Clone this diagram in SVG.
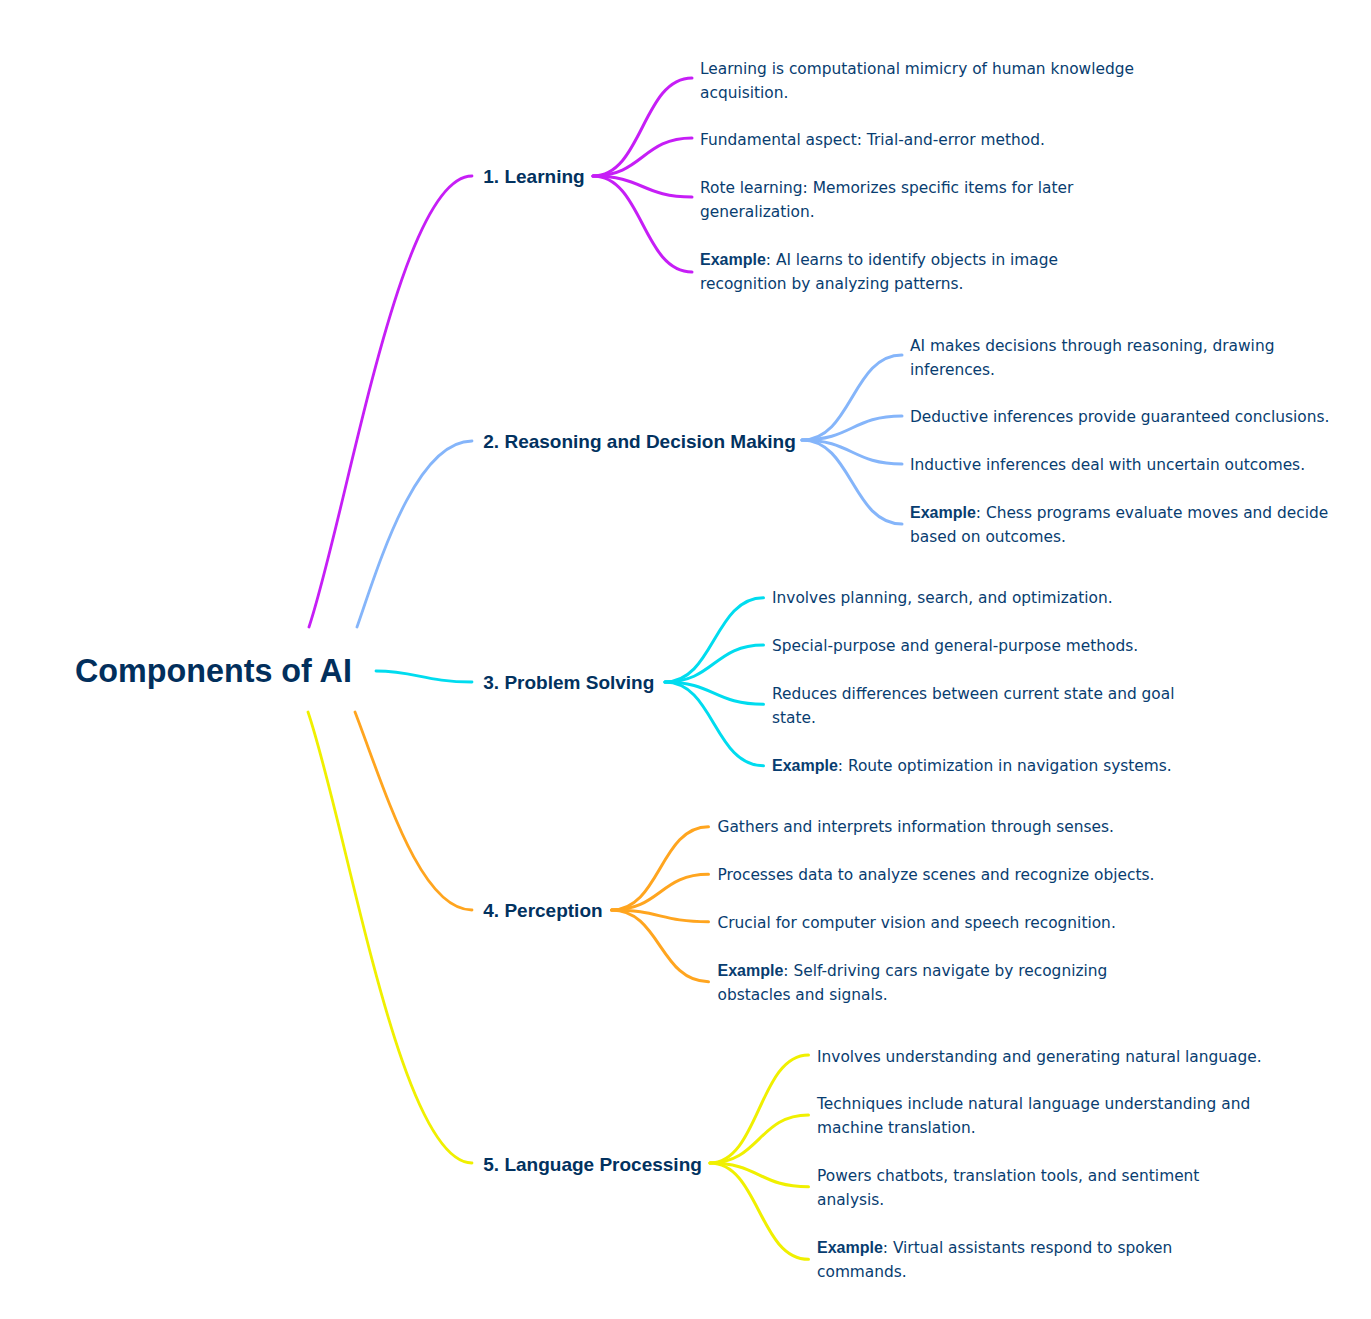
<svg xmlns="http://www.w3.org/2000/svg" width="1371" height="1319" viewBox="0 0 1371 1319">
<style>
.root{font-family:"Liberation Sans",Arial,sans-serif;font-weight:bold;font-size:32.3px;fill:#022f5c}
.lbl{font-family:"Liberation Sans",Arial,sans-serif;font-weight:bold;font-size:19px;fill:#02325f}
.leaf{font-family:"DejaVu Sans","Liberation Sans",sans-serif;font-size:15.4px;fill:#083d70}
.b{font-family:"Liberation Sans",Arial,sans-serif;font-weight:bold;font-size:16px}
.ln{fill:none;stroke-linecap:round}
.main{stroke-width:2.8}
.sub{stroke-width:3}
.c1{stroke:#c61ef6}.c2{stroke:#85b5fa}.c3{stroke:#00dcef}.c4{stroke:#ffa51f}.c5{stroke:#f0f000}
</style>
<rect width="1371" height="1319" fill="#ffffff"/>
<g id="connectors">
<path class="ln main c1" d="M309,627 C348,509 400,176 472,176"/>
<path class="ln main c2" d="M357,627 C378,567 415,441 472,441"/>
<path class="ln main c3" d="M376,671 C415,671 425,682 472,682"/>
<path class="ln main c4" d="M355,712 C385,790 420,910 472,910"/>
<path class="ln main c5" d="M308,712 C348,830 400,1163 472,1163"/>
<path class="ln sub c1" d="M593,176 C642.5,176 642.5,78 692,78"/>
<path class="ln sub c1" d="M593,176 C642.5,176 642.5,138 692,138"/>
<path class="ln sub c1" d="M593,176 C642.5,176 642.5,197 692,197"/>
<path class="ln sub c1" d="M593,176 C642.5,176 642.5,272 692,272"/>
<path class="ln sub c2" d="M802,440 C852,440 852,355 902,355"/>
<path class="ln sub c2" d="M802,440 C852,440 852,416 902,416"/>
<path class="ln sub c2" d="M802,440 C852,440 852,464 902,464"/>
<path class="ln sub c2" d="M802,440 C852,440 852,524 902,524"/>
<path class="ln sub c3" d="M665,682 C714,682 714,597.7 763.5,597.7"/>
<path class="ln sub c3" d="M665,682 C714,682 714,645 763.5,645"/>
<path class="ln sub c3" d="M665,682 C714,682 714,704.3 763.5,704.3"/>
<path class="ln sub c3" d="M665,682 C714,682 714,765.7 763.5,765.7"/>
<path class="ln sub c4" d="M611.7,910 C660,910 660,826.7 708.5,826.7"/>
<path class="ln sub c4" d="M611.7,910 C660,910 660,874.3 708.5,874.3"/>
<path class="ln sub c4" d="M611.7,910 C660,910 660,921.7 708.5,921.7"/>
<path class="ln sub c4" d="M611.7,910 C660,910 660,981.7 708.5,981.7"/>
<path class="ln sub c5" d="M710,1163 C759,1163 759,1055 808.5,1055"/>
<path class="ln sub c5" d="M710,1163 C759,1163 759,1115 808.5,1115"/>
<path class="ln sub c5" d="M710,1163 C759,1163 759,1186.7 808.5,1186.7"/>
<path class="ln sub c5" d="M710,1163 C759,1163 759,1259.3 808.5,1259.3"/>
</g>
<g id="root"><text class="root" x="75" y="681.7">Components of AI</text></g>
<g id="n1"><text class="lbl" x="483.3" y="183">1. Learning</text></g>
<g id="n1-1"><text class="leaf" x="700" y="74">Learning is computational mimicry of human knowledge</text><text class="leaf" x="700" y="97.5">acquisition.</text></g>
<g id="n1-2"><text class="leaf" x="700" y="145">Fundamental aspect: Trial-and-error method.</text></g>
<g id="n1-3"><text class="leaf" x="700" y="193.3">Rote learning: Memorizes specific items for later</text><text class="leaf" x="700" y="216.8">generalization.</text></g>
<g id="n1-4"><text class="leaf" x="700" y="265"><tspan class="b">Example</tspan>: AI learns to identify objects in image</text><text class="leaf" x="700" y="289">recognition by analyzing patterns.</text></g>
<g id="n2"><text class="lbl" x="483.3" y="448">2. Reasoning and Decision Making</text></g>
<g id="n2-1"><text class="leaf" x="910" y="351">AI makes decisions through reasoning, drawing</text><text class="leaf" x="910" y="374.5">inferences.</text></g>
<g id="n2-2"><text class="leaf" x="910" y="422">Deductive inferences provide guaranteed conclusions.</text></g>
<g id="n2-3"><text class="leaf" x="910" y="470">Inductive inferences deal with uncertain outcomes.</text></g>
<g id="n2-4"><text class="leaf" x="910" y="518"><tspan class="b">Example</tspan>: Chess programs evaluate moves and decide</text><text class="leaf" x="910" y="541.5">based on outcomes.</text></g>
<g id="n3"><text class="lbl" x="483.3" y="689">3. Problem Solving</text></g>
<g id="n3-1"><text class="leaf" x="772" y="603.3">Involves planning, search, and optimization.</text></g>
<g id="n3-2"><text class="leaf" x="772" y="651">Special-purpose and general-purpose methods.</text></g>
<g id="n3-3"><text class="leaf" x="772" y="699">Reduces differences between current state and goal</text><text class="leaf" x="772" y="722.5">state.</text></g>
<g id="n3-4"><text class="leaf" x="772" y="771"><tspan class="b">Example</tspan>: Route optimization in navigation systems.</text></g>
<g id="n4"><text class="lbl" x="483.3" y="917">4. Perception</text></g>
<g id="n4-1"><text class="leaf" x="717.5" y="832.3">Gathers and interprets information through senses.</text></g>
<g id="n4-2"><text class="leaf" x="717.5" y="880">Processes data to analyze scenes and recognize objects.</text></g>
<g id="n4-3"><text class="leaf" x="717.5" y="927.7">Crucial for computer vision and speech recognition.</text></g>
<g id="n4-4"><text class="leaf" x="717.5" y="976"><tspan class="b">Example</tspan>: Self-driving cars navigate by recognizing</text><text class="leaf" x="717.5" y="1000">obstacles and signals.</text></g>
<g id="n5"><text class="lbl" x="483.3" y="1170.5">5. Language Processing</text></g>
<g id="n5-1"><text class="leaf" x="817" y="1061.7">Involves understanding and generating natural language.</text></g>
<g id="n5-2"><text class="leaf" x="817" y="1109">Techniques include natural language understanding and</text><text class="leaf" x="817" y="1132.5">machine translation.</text></g>
<g id="n5-3"><text class="leaf" x="817" y="1181">Powers chatbots, translation tools, and sentiment</text><text class="leaf" x="817" y="1204.5">analysis.</text></g>
<g id="n5-4"><text class="leaf" x="817" y="1252.7"><tspan class="b">Example</tspan>: Virtual assistants respond to spoken</text><text class="leaf" x="817" y="1276.5">commands.</text></g>
</svg>
